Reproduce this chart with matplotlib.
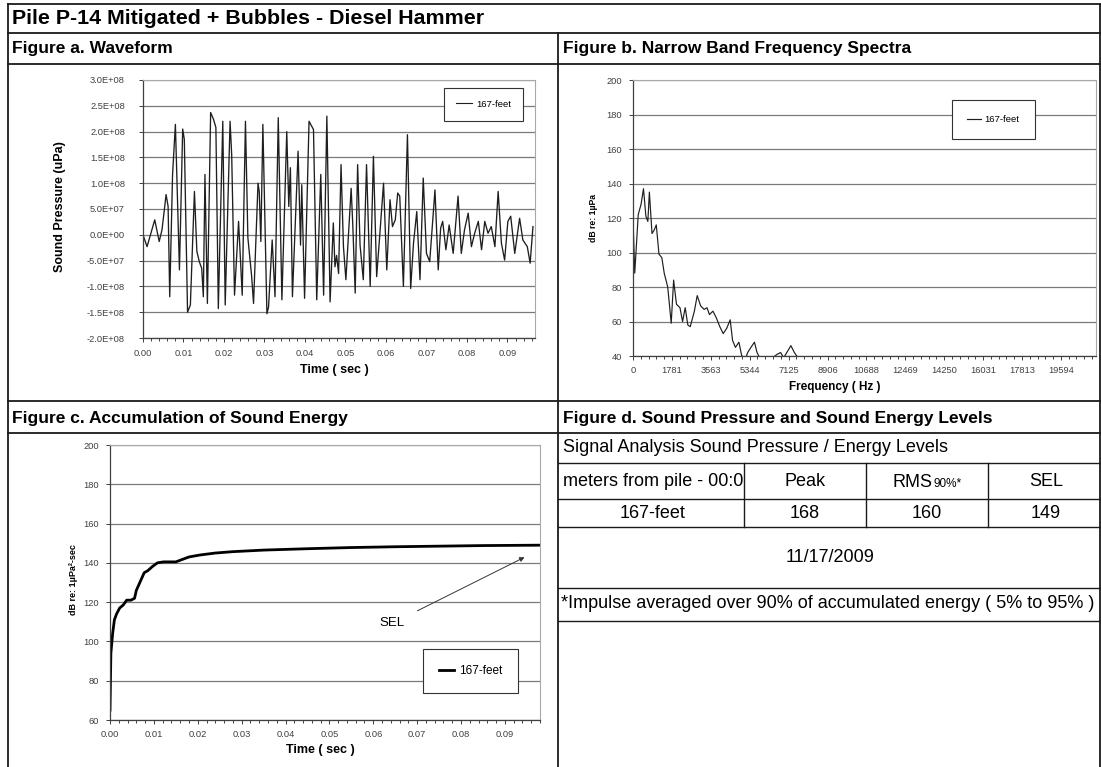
import matplotlib
matplotlib.use("Agg")
import matplotlib.pyplot as plt
from matplotlib.ticker import MultipleLocator, FixedLocator, FuncFormatter

plt.rcParams["font.family"] = ["Liberation Sans", "DejaVu Sans"]

W, H = 1101, 767

# ── Data ─────────────────────────────────────────────────
# Figure a: waveform, time in ms, pressure in 1e8 uPa
wave_ms = [0.0, 1.0, 2.9, 4.0, 4.7, 5.7, 6.2, 6.6, 7.3, 8.0,
           9.0, 9.8, 10.2, 11.0, 11.7, 12.7, 13.3, 13.9, 14.5, 14.9,
           15.3, 15.9, 16.7, 17.4, 18.0, 18.6, 19.7, 20.3, 21.5, 21.9,
           22.6, 23.6, 24.5, 25.3, 25.9, 26.8, 27.3, 28.4, 28.7, 29.1,
           29.6, 30.6, 31.0, 31.9, 32.6, 33.4, 34.3, 35.5, 36.0, 36.4,
           36.9, 38.3, 38.9, 39.2, 39.9, 41.0, 42.1, 42.9, 43.9, 44.6,
           45.4, 46.2, 47.0, 47.4, 47.8, 48.3, 48.9, 49.5, 50.1, 51.4,
           51.8, 52.4, 53.0, 53.6, 54.4, 55.2, 56.1, 56.9, 57.7, 58.5,
           59.4, 60.2, 61.0, 61.6, 62.3, 62.9, 63.4, 64.3, 65.3, 66.1,
           66.8, 67.6, 68.4, 69.2, 70.0, 70.8, 72.1, 72.9, 73.5, 74.0,
           74.8, 75.6, 76.6, 77.8, 78.6, 79.4, 80.3, 81.1, 81.9, 82.8,
           83.6, 84.4, 85.2, 86.0, 86.9, 87.7, 88.5, 89.3, 90.1, 90.8,
           91.8, 93.0, 93.8, 94.9, 95.6, 96.3]
wave_p = [0.00, -0.23, 0.29, -0.13, 0.10, 0.78, 0.55, -1.20, 1.17, 2.14,
          -0.68, 2.05, 1.85, -1.50, -1.36, 0.84, -0.32, -0.52, -0.65, -1.20,
          1.17, -1.33, 2.37, 2.24, 2.08, -1.43, 2.20, -1.36, 2.20, 1.55,
          -1.17, 0.26, -1.17, 2.20, -0.06, -0.78, -1.33, 1.00, 0.84, -0.13,
          2.14, -1.53, -1.40, -0.10, -1.20, 2.27, -1.26, 2.00, 0.55, 1.30,
          -1.20, 1.62, -0.20, 0.97, -1.23, 2.20, 2.04, -1.26, 1.17, -1.17,
          2.30, -1.30, 0.23, -0.62, -0.40, -0.75, 1.36, -0.23, -0.87, 0.90,
          0.20, -1.13, 1.36, -0.20, -0.87, 1.36, -1.00, 1.52, -0.81, 0.03,
          1.00, -0.68, 0.68, 0.16, 0.29, 0.81, 0.75, -1.00, 1.94, -1.04,
          -0.16, 0.45, -0.87, 1.10, -0.36, -0.52, 0.87, -0.68, 0.13, 0.26,
          -0.29, 0.19, -0.36, 0.75, -0.36, 0.10, 0.42, -0.23, 0.03, 0.26,
          -0.29, 0.26, 0.03, 0.16, -0.23, 0.84, -0.16, -0.49, 0.26, 0.36,
          -0.36, 0.32, -0.10, -0.23, -0.55, 0.16]

# Figure b: narrow band spectrum
spec_hz = [0, 20, 80, 160, 240, 370, 480, 590, 680, 750,
           870, 970, 1065, 1190, 1320, 1430, 1590, 1750, 1860, 1990,
           2150, 2270, 2390, 2510, 2620, 2810, 2940, 3100, 3260, 3390,
           3500, 3660, 3820, 3975, 4130, 4290, 4450, 4560, 4690, 4850,
           4980, 5170, 5250, 5400, 5560, 5680, 5800, 6400, 6600, 6760,
           6900, 7230, 7390, 7550, 9000, 21000]
spec_db = [55, 112, 88, 105, 122, 128, 137, 121, 118, 135,
           111, 113, 116, 99, 97, 88, 80, 59, 84, 70,
           68, 60, 68, 58, 57, 66, 75, 69, 67, 68,
           64, 66, 62, 57, 53, 56, 61, 49, 45, 48,
           40, 39, 42, 45, 48, 42, 39, 39, 41, 42,
           39, 46, 42, 39, 38, 38]
freq_labels = ["0", "1781", "3563", "5344", "7125", "8906", "10688",
               "12469", "14250", "16031", "17813", "19594"]

# Figure c: accumulated energy
sel_ms = [0.0, 0.2, 0.6, 1.0, 1.5, 2.2, 3.0, 3.8, 4.8, 5.6,
          6.0, 6.8, 7.8, 8.6, 9.6, 10.8, 12.2, 15.0, 16.8, 18.0,
          20.5, 24.0, 28.0, 35.0, 45.0, 55.0, 65.0, 75.0, 85.0, 98.0]
sel_db = [65, 94, 104, 111, 114, 117, 118.5, 121, 121, 122,
          126, 130, 135, 136, 138, 140, 140.5, 140.5, 142, 143,
          144, 145, 145.7, 146.5, 147.2, 147.8, 148.2, 148.5, 148.8, 149.0]

# Figure d: table
table_head = ["meters from pile - 00:0", "Peak", "RMS", "SEL"]
table_row = ["167-feet", "168", "160", "149"]
test_date = "11/17/2009"
series_name = "167-feet"


def rect(x0, y0, x1, y1):
    return [x0 / W, 1 - y1 / H, (x1 - x0) / W, (y1 - y0) / H]


def style(ax, ypad, xpad):
    ax.set_facecolor("white")
    for s in ["top", "right"]:
        ax.spines[s].set_color("#a8a8a8")
        ax.spines[s].set_linewidth(0.8)
    for s in ["left", "bottom"]:
        ax.spines[s].set_color("#404040")
        ax.spines[s].set_linewidth(0.9)
    ax.grid(axis="y", color="#7a7a7a", lw=0.9)
    ax.set_axisbelow(True)
    ax.tick_params(which="both", direction="out", colors="#404040",
                   labelsize=6.7, width=0.7)
    ax.tick_params(axis="y", length=3, pad=ypad)
    ax.tick_params(axis="x", which="major", length=3, pad=xpad)
    ax.tick_params(axis="x", which="minor", length=2.5)


def legend(ax, loc, anchor, size, bpad, hlen):
    leg = ax.legend(loc=loc, bbox_to_anchor=anchor, fontsize=size,
                    frameon=True, fancybox=False, framealpha=1,
                    edgecolor="#333333", borderpad=bpad, handlelength=hlen,
                    handletextpad=0.4, borderaxespad=0)
    leg.get_frame().set_linewidth(0.8)
    return leg


fig = plt.figure(figsize=(W / 100, H / 100), dpi=100)
fig.patch.set_facecolor("white")

# ── Figure a ─────────────────────────────────────────────
ax_a = fig.add_axes(rect(143, 80, 535, 338))
ax_a.plot([t / 1000 for t in wave_ms], [p * 1e8 for p in wave_p],
          color="#1e1e1e", lw=0.95, label=series_name)
ax_a.set_xlim(0, 0.0968)
ax_a.set_ylim(-2e8, 3e8)
ax_a.yaxis.set_major_locator(MultipleLocator(0.5e8))
ax_a.yaxis.set_major_formatter(FuncFormatter(lambda v, _: f"{v:.1E}"))
ax_a.xaxis.set_major_locator(MultipleLocator(0.01))
ax_a.xaxis.set_minor_locator(MultipleLocator(0.002))
ax_a.xaxis.set_major_formatter(FuncFormatter(lambda v, _: f"{v:.2f}"))
style(ax_a, 10, 5)
leg_a = legend(ax_a, "upper right", (0.969, 0.969), 6.8, 1.25, 1.7)
leg_a.get_lines()[0].set_linewidth(0.8)

# ── Figure b ─────────────────────────────────────────────
ax_b = fig.add_axes(rect(633, 80, 1096, 356))
ax_b.plot(spec_hz, spec_db, color="#1e1e1e", lw=0.85, label=series_name)
ax_b.set_xlim(0, 21200)
ax_b.set_ylim(40, 200)
ax_b.yaxis.set_major_locator(MultipleLocator(20))
ax_b.xaxis.set_major_locator(FixedLocator([i * 1781.25 for i in range(len(freq_labels))]))
ax_b.set_xticklabels(freq_labels)
ax_b.xaxis.set_minor_locator(MultipleLocator(1781.25 / 5))
style(ax_b, 5, 4)
legend(ax_b, "upper right", (0.868, 0.928), 6.8, 1.6, 1.5)

# ── Figure c ─────────────────────────────────────────────
ax_c = fig.add_axes(rect(110, 445, 540, 720))
ax_c.plot([t / 1000 for t in sel_ms], sel_db, color="black", lw=2,
          label=series_name)
ax_c.set_xlim(0, 0.098)
ax_c.set_ylim(60, 200)
ax_c.yaxis.set_major_locator(MultipleLocator(20))
ax_c.xaxis.set_major_locator(MultipleLocator(0.01))
ax_c.xaxis.set_minor_locator(MultipleLocator(0.002))
ax_c.xaxis.set_major_formatter(FuncFormatter(lambda v, _: f"{v:.2f}"))
style(ax_c, 5, 4.5)
legend(ax_c, "lower right", (0.949, 0.098), 8.5, 1.35, 1.3)

# ── Page layout, headers and table (pixel coordinates) ──
bg = fig.add_axes([0, 0, 1, 1], zorder=5)
bg.set_xlim(0, W)
bg.set_ylim(H, 0)
bg.axis("off")
bg.patch.set_visible(False)

lc = "#1a1a1a"
for y in [4, 33, 64, 401, 433]:
    bg.plot([8, 1100], [y, y], color=lc, lw=1.3)
for y in [463, 499, 527, 588, 621]:
    bg.plot([558, 1100], [y, y], color=lc, lw=1.0)
bg.plot([8, 8], [4, H], color=lc, lw=1.3)
bg.plot([558, 558], [33, H], color=lc, lw=1.3)
bg.plot([1100, 1100], [4, H], color=lc, lw=1.3)
for x in [744, 866, 988]:
    bg.plot([x, x], [463, 527], color=lc, lw=1.0)

bg.text(12, 19, "Pile P-14 Mitigated + Bubbles - Diesel Hammer",
        fontsize=15.4, fontweight="bold", va="center")
bg.text(12, 49, "Figure a. Waveform", fontsize=12.5, fontweight="bold", va="center")
bg.text(563, 49, "Figure b. Narrow Band Frequency Spectra", fontsize=12.5,
        fontweight="bold", va="center")
bg.text(12, 418, "Figure c. Accumulation of Sound Energy", fontsize=12.5,
        fontweight="bold", va="center")
bg.text(563, 418, "Figure d. Sound Pressure and Sound Energy Levels",
        fontsize=12.5, fontweight="bold", va="center")

# axis titles
bg.text(60, 207, "Sound Pressure (uPa)", fontsize=9, fontweight="bold",
        rotation=90, ha="center", va="center")
bg.text(334, 370, "Time ( sec )", fontsize=9, fontweight="bold",
        ha="center", va="center")
bg.text(594, 218, "dB re: 1µPa", fontsize=6.2, fontweight="bold",
        rotation=90, ha="center", va="center")
bg.text(835, 387, "Frequency ( Hz )", fontsize=8.5, fontweight="bold",
        ha="center", va="center")
bg.text(74, 580, "dB re: 1µPa²-sec", fontsize=6.5, fontweight="bold",
        rotation=90, ha="center", va="center")
bg.text(320, 750, "Time ( sec )", fontsize=9, fontweight="bold",
        ha="center", va="center")

# SEL annotation
bg.annotate("", xy=(527, 556), xytext=(415, 612),
            arrowprops=dict(arrowstyle="-|>", color="#333333", lw=0.7,
                            mutation_scale=7))
bg.text(392, 623, "SEL", fontsize=9.5, ha="center", va="center")

# table
bg.text(563, 448, "Signal Analysis Sound Pressure / Energy Levels",
        fontsize=13, va="center")
bg.text(563, 481, table_head[0], fontsize=13, va="center")
bg.text(805, 481, table_head[1], fontsize=13, ha="center", va="center")
bg.text(933, 487, table_head[2], fontsize=13, ha="right", va="baseline")
bg.text(933, 487, "90%*", fontsize=8.5, ha="left", va="baseline")
bg.text(1046, 481, table_head[3], fontsize=13, ha="center", va="center")
for x, s in zip([653, 805, 927, 1046], table_row):
    bg.text(x, 513, s, fontsize=13, ha="center", va="center")
bg.text(830, 557, test_date, fontsize=13, ha="center", va="center")
bg.text(561, 604, "*Impulse averaged over 90% of accumulated energy ( 5% to 95% )",
        fontsize=13, va="center")

fig.savefig("out.png", dpi=100)
